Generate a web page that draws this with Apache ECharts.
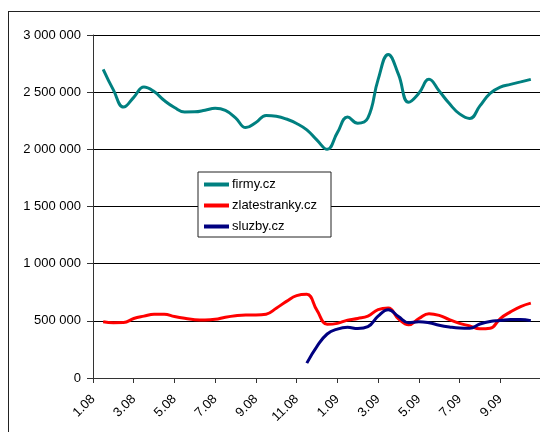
<!DOCTYPE html>
<html>
<head>
<meta charset="utf-8">
<script src="https://cdn.jsdelivr.net/npm/echarts@6/dist/echarts.min.js"></script>
<style>
  html, body { margin: 0; padding: 0; width: 540px; height: 432px; overflow: hidden; background: #fff; }
  #frame { position: absolute; left: 8px; top: 11px; width: 700px; height: 600px; border: 1.5px solid #222; box-sizing: border-box; }
  #chart { position: absolute; left: 0; top: 0; width: 560px; height: 432px; }
</style>
</head>
<body>
<div id="frame"></div>
<div id="chart"></div>
<script>
// Tick labels (every second month), x slots are half-months starting at 1.08
var tickLabels = ['1.08', '3.08', '5.08', '7.08', '9.08', '11.08', '1.09', '3.09', '5.09', '7.09', '9.09'];

var seriesNames = ['firmy.cz', 'zlatestranky.cz', 'sluzby.cz'];

var firmy = [null, 2700000, 2520000, 2370000, 2455000, 2545000, 2505000, 2427000, 2366000, 2327000,
  2328000, 2342000, 2359000, 2340000, 2275000, 2190000, 2235000, 2297000, 2290000, 2265000,
  2226000, 2170000, 2080000, 2000000, 2146000, 2282000, 2228000, 2275000, 2610000, 2830000,
  2655000, 2412000, 2490000, 2612000, 2510000, 2400000, 2310000, 2270000, 2380000, 2490000,
  2545000, 2568000, 2590000, 2612000, null];

var zlatestranky = [null, 492000, 484000, 485000, 520000, 541000, 558000, 558000, 538000, 522000,
  510000, 507000, 513000, 532000, 545000, 551000, 551000, 558000, 610000, 670000,
  720000, 732000, 591000, 470000, 478000, 506000, 521000, 541000, 598000, 612000,
  518000, 466000, 520000, 563000, 548000, 510000, 478000, 455000, 430000, 435000,
  520000, 578000, 625000, 655000, null];

var sluzby = [null, null, null, null, null, null, null, null, null, null,
  null, null, null, null, null, null, null, null, null, null,
  null, 130000, 277000, 385000, 428000, 443000, 433000, 449000, 541000, 597000,
  537000, 484000, 492000, 483000, 462000, 447000, 437000, 435000, 472000, 495000,
  502000, 511000, 512000, 502000, null];

var colors = ['#008080', '#ff0000', '#000080'];

// half-month slot names
var categories = [];
for (var i = 0; i < firmy.length; i++) {
  var m = Math.floor(i / 2);
  var month = (m % 12) + 1;
  var year = 8 + Math.floor(m / 12);
  var name = month + '.' + (year < 10 ? '0' + year : year);
  categories.push(i % 2 ? name + ' (15.)' : name);
}

function fmt(v) {
  return String(v).replace(/\B(?=(\d{3})+(?!\d))/g, ' ');
}

var chart = echarts.init(document.getElementById('chart'), null, { renderer: 'canvas' });
var data = [firmy, zlatestranky, sluzby];
chart.setOption({
  animation: false,
  textStyle: { fontFamily: 'Liberation Sans, Arial, sans-serif' },
  grid: { left: 93, right: 19, top: 35, bottom: 54, containLabel: false },
  legend: {
    orient: 'vertical',
    left: 198,
    top: 172,
    backgroundColor: '#fff',
    borderColor: '#222',
    borderWidth: 1,
    padding: [6, 14, 4, 6],
    itemGap: 8,
    itemWidth: 25,
    itemHeight: 4,
    icon: 'rect',
    textStyle: { fontSize: 13, color: '#000', fontFamily: 'Liberation Sans, Arial, sans-serif', padding: [0, 0, 0, -2] },
    data: seriesNames
  },
  xAxis: {
    type: 'category',
    boundaryGap: false,
    data: categories,
    axisLine: { lineStyle: { color: '#333', width: 1 } },
    axisTick: { interval: 3, length: 5, lineStyle: { color: '#333' } },
    axisLabel: {
      interval: 3,
      rotate: 45,
      margin: 19,
      fontSize: 13,
      color: '#000',
      formatter: function (v) { return tickLabels.indexOf(v) >= 0 ? v : ''; }
    },
    splitLine: { show: false }
  },
  yAxis: {
    type: 'value',
    min: 0,
    max: 3000000,
    interval: 500000,
    axisLine: { show: true, lineStyle: { color: '#333', width: 1 } },
    axisTick: { show: true, length: 6, lineStyle: { color: '#333' } },
    axisLabel: { margin: 12, fontSize: 13, color: '#000', formatter: fmt },
    splitLine: { lineStyle: { color: '#000', width: 1 } }
  },
  series: seriesNames.map(function (n, k) {
    return {
      name: n,
      type: 'line',
      data: data[k],
      smooth: 0.45,
      symbol: 'none',
      connectNulls: false,
      itemStyle: { color: colors[k] },
      lineStyle: { color: colors[k], width: 3 }
    };
  })
});
</script>
</body>
</html>
